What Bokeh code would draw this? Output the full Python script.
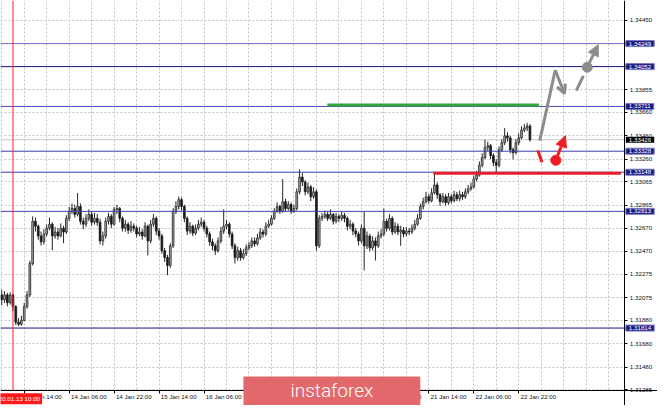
import numpy as np
from bokeh.plotting import figure
from bokeh.models import (FixedTicker, NumeralTickFormatter, LinearAxis, Label, Arrow,
                          NormalHead, OpenHead, Range1d, BoxAnnotation)
from bokeh.embed import file_html
from bokeh.resources import INLINE

# ---------------- data (GBPUSD H1) ----------------
opens = [
1.32098, 1.32056, 1.32098, 1.32031, 1.32098, 1.31997, 1.31863, 1.31846, 1.31880, 1.31997,
1.32098, 1.32367, 1.32728, 1.32686, 1.32602, 1.32552, 1.32619, 1.32669, 1.32703, 1.32602,
1.32636, 1.32602, 1.32669, 1.32636, 1.32753, 1.32812, 1.32837, 1.32787, 1.32854, 1.32728,
1.32703, 1.32753, 1.32787, 1.32720, 1.32753, 1.32720, 1.32560, 1.32602, 1.32728, 1.32770,
1.32703, 1.32829, 1.32837, 1.32753, 1.32669, 1.32703, 1.32652, 1.32686, 1.32669, 1.32619,
1.32636, 1.32602, 1.32686, 1.32560, 1.32703, 1.32753, 1.32644, 1.32602, 1.32476, 1.32417,
1.32350, 1.32518, 1.32812, 1.32854, 1.32913, 1.32854, 1.32753, 1.32644, 1.32686, 1.32627,
1.32669, 1.32703, 1.32720, 1.32669, 1.32619, 1.32552, 1.32518, 1.32476, 1.32560, 1.32644,
1.32686, 1.32703, 1.32619, 1.32518, 1.32417, 1.32476, 1.32417, 1.32451, 1.32501, 1.32518,
1.32560, 1.32535, 1.32585, 1.32636, 1.32619, 1.32686, 1.32703, 1.32753, 1.32812, 1.32854,
1.32812, 1.32896, 1.32837, 1.32871, 1.32812, 1.32837, 1.32980, 1.33106, 1.33064, 1.32980,
1.33022, 1.32938, 1.32980, 1.32518, 1.32753, 1.32770, 1.32787, 1.32753, 1.32787, 1.32728,
1.32770, 1.32753, 1.32778, 1.32753, 1.32686, 1.32703, 1.32644, 1.32619, 1.32560, 1.32669,
1.32518, 1.32602, 1.32501, 1.32560, 1.32518, 1.32602, 1.32619, 1.32728, 1.32669, 1.32753,
1.32636, 1.32686, 1.32636, 1.32652, 1.32619, 1.32644, 1.32636, 1.32669, 1.32703, 1.32753,
1.32854, 1.32896, 1.32938, 1.32904, 1.32972, 1.33039, 1.32955, 1.32896, 1.32938, 1.32888,
1.32938, 1.32904, 1.32955, 1.32921, 1.32955, 1.32938, 1.32980, 1.33005, 1.33022, 1.33089,
1.33123, 1.33207, 1.33274, 1.33358, 1.33375, 1.33291, 1.33232, 1.33207, 1.33341, 1.33400,
1.33459, 1.33442, 1.33341, 1.33316, 1.33400, 1.33442, 1.33509, 1.33526, 1.33543,
]
highs = [
1.32140, 1.32130, 1.32115, 1.32120, 1.32110, 1.32010, 1.31900, 1.31920, 1.32030, 1.32130,
1.32390, 1.32770, 1.32760, 1.32700, 1.32640, 1.32660, 1.32700, 1.32760, 1.32720, 1.32680,
1.32670, 1.32710, 1.32690, 1.32780, 1.32850, 1.32880, 1.32870, 1.32970, 1.32880, 1.32760,
1.32790, 1.32830, 1.32810, 1.32800, 1.32790, 1.32750, 1.32640, 1.32760, 1.32800, 1.32790,
1.32850, 1.32870, 1.32850, 1.32770, 1.32740, 1.32720, 1.32730, 1.32710, 1.32690, 1.32680,
1.32660, 1.32720, 1.32700, 1.32740, 1.32790, 1.32770, 1.32670, 1.32620, 1.32500, 1.32440,
1.32540, 1.32840, 1.32900, 1.32940, 1.32930, 1.32870, 1.32770, 1.32720, 1.32700, 1.32700,
1.32740, 1.32760, 1.32740, 1.32690, 1.32640, 1.32580, 1.32540, 1.32590, 1.32680, 1.32830,
1.32740, 1.32720, 1.32640, 1.32540, 1.32510, 1.32500, 1.32490, 1.32530, 1.32550, 1.32590,
1.32590, 1.32620, 1.32670, 1.32660, 1.32720, 1.32740, 1.32780, 1.32840, 1.32890, 1.32870,
1.33089, 1.32920, 1.32900, 1.32890, 1.32870, 1.33010, 1.33173, 1.33140, 1.33080, 1.33060,
1.33040, 1.33020, 1.33000, 1.32780, 1.32800, 1.32820, 1.32810, 1.32830, 1.32800, 1.32800,
1.32790, 1.32810, 1.32800, 1.32770, 1.32740, 1.32720, 1.32670, 1.32640, 1.32700, 1.32812,
1.32640, 1.32620, 1.32600, 1.32590, 1.32640, 1.32660, 1.32837, 1.32750, 1.32790, 1.32770,
1.32720, 1.32710, 1.32690, 1.32680, 1.32680, 1.32670, 1.32700, 1.32740, 1.32790, 1.32880,
1.32930, 1.32980, 1.32960, 1.33010, 1.33131, 1.33060, 1.32970, 1.32970, 1.32960, 1.32970,
1.32960, 1.32990, 1.32980, 1.32990, 1.32980, 1.33010, 1.33040, 1.33060, 1.33120, 1.33160,
1.33240, 1.33310, 1.33426, 1.33410, 1.33390, 1.33310, 1.33260, 1.33370, 1.33430, 1.33526,
1.33490, 1.33460, 1.33360, 1.33430, 1.33480, 1.33540, 1.33560, 1.33570, 1.33560,
]
lows = [
1.32010, 1.32030, 1.32000, 1.32015, 1.31960, 1.31840, 1.31830, 1.31835, 1.31870, 1.31980,
1.32080, 1.32350, 1.32640, 1.32570, 1.32520, 1.32530, 1.32600, 1.32650, 1.32480, 1.32580,
1.32570, 1.32590, 1.32540, 1.32620, 1.32730, 1.32790, 1.32760, 1.32770, 1.32700, 1.32660,
1.32680, 1.32730, 1.32690, 1.32700, 1.32690, 1.32530, 1.32520, 1.32580, 1.32700, 1.32670,
1.32690, 1.32790, 1.32720, 1.32640, 1.32640, 1.32620, 1.32630, 1.32640, 1.32590, 1.32600,
1.32570, 1.32590, 1.32435, 1.32540, 1.32680, 1.32610, 1.32570, 1.32450, 1.32380, 1.32267,
1.32330, 1.32500, 1.32790, 1.32830, 1.32820, 1.32720, 1.32610, 1.32620, 1.32600, 1.32610,
1.32650, 1.32680, 1.32640, 1.32590, 1.32520, 1.32480, 1.32440, 1.32460, 1.32540, 1.32620,
1.32660, 1.32590, 1.32490, 1.32367, 1.32390, 1.32390, 1.32400, 1.32430, 1.32480, 1.32500,
1.32510, 1.32520, 1.32570, 1.32590, 1.32600, 1.32670, 1.32690, 1.32740, 1.32800, 1.32790,
1.32800, 1.32810, 1.32820, 1.32790, 1.32800, 1.32820, 1.32960, 1.33030, 1.32950, 1.32960,
1.32900, 1.32920, 1.32476, 1.32500, 1.32730, 1.32750, 1.32730, 1.32740, 1.32700, 1.32710,
1.32720, 1.32730, 1.32720, 1.32650, 1.32660, 1.32610, 1.32590, 1.32520, 1.32540, 1.32308,
1.32490, 1.32470, 1.32480, 1.32392, 1.32500, 1.32580, 1.32600, 1.32640, 1.32650, 1.32610,
1.32620, 1.32610, 1.32518, 1.32590, 1.32600, 1.32610, 1.32620, 1.32650, 1.32690, 1.32740,
1.32830, 1.32880, 1.32880, 1.32890, 1.32960, 1.32920, 1.32860, 1.32880, 1.32860, 1.32870,
1.32880, 1.32890, 1.32900, 1.32900, 1.32910, 1.32920, 1.32960, 1.32990, 1.33010, 1.33070,
1.33110, 1.33190, 1.33260, 1.33330, 1.33260, 1.33200, 1.33148, 1.33190, 1.33320, 1.33380,
1.33410, 1.33310, 1.33258, 1.33300, 1.33380, 1.33430, 1.33490, 1.33500, 1.33410,
]
closes = [
1.32056, 1.32098, 1.32031, 1.32098, 1.31997, 1.31863, 1.31846, 1.31880, 1.31997, 1.32098,
1.32367, 1.32728, 1.32686, 1.32602, 1.32552, 1.32619, 1.32669, 1.32703, 1.32602, 1.32636,
1.32602, 1.32669, 1.32636, 1.32753, 1.32812, 1.32837, 1.32787, 1.32854, 1.32728, 1.32703,
1.32753, 1.32787, 1.32720, 1.32753, 1.32720, 1.32560, 1.32602, 1.32728, 1.32770, 1.32703,
1.32829, 1.32837, 1.32753, 1.32669, 1.32703, 1.32652, 1.32686, 1.32669, 1.32619, 1.32636,
1.32602, 1.32686, 1.32560, 1.32703, 1.32753, 1.32644, 1.32602, 1.32476, 1.32417, 1.32350,
1.32518, 1.32812, 1.32854, 1.32913, 1.32854, 1.32753, 1.32644, 1.32686, 1.32627, 1.32669,
1.32703, 1.32720, 1.32669, 1.32619, 1.32552, 1.32518, 1.32476, 1.32560, 1.32644, 1.32686,
1.32703, 1.32619, 1.32518, 1.32417, 1.32476, 1.32417, 1.32451, 1.32501, 1.32518, 1.32560,
1.32535, 1.32585, 1.32636, 1.32619, 1.32686, 1.32703, 1.32753, 1.32812, 1.32854, 1.32812,
1.32896, 1.32837, 1.32871, 1.32812, 1.32837, 1.32980, 1.33106, 1.33064, 1.32980, 1.33022,
1.32938, 1.32980, 1.32518, 1.32753, 1.32770, 1.32787, 1.32753, 1.32787, 1.32728, 1.32770,
1.32753, 1.32778, 1.32753, 1.32686, 1.32703, 1.32644, 1.32619, 1.32560, 1.32669, 1.32518,
1.32602, 1.32501, 1.32560, 1.32518, 1.32602, 1.32619, 1.32728, 1.32669, 1.32753, 1.32636,
1.32686, 1.32636, 1.32652, 1.32619, 1.32644, 1.32636, 1.32669, 1.32703, 1.32753, 1.32854,
1.32896, 1.32938, 1.32904, 1.32972, 1.33039, 1.32955, 1.32896, 1.32938, 1.32888, 1.32938,
1.32904, 1.32955, 1.32921, 1.32955, 1.32938, 1.32980, 1.33005, 1.33022, 1.33089, 1.33123,
1.33207, 1.33274, 1.33358, 1.33375, 1.33291, 1.33232, 1.33207, 1.33341, 1.33400, 1.33459,
1.33442, 1.33341, 1.33316, 1.33400, 1.33442, 1.33509, 1.33526, 1.33543, 1.33426,
]

time_tick_bars = [8, 24, 40, 56, 72, 88, 104, 120, 136, 152, 168, 184]
time_tick_labels = ["13 Jan 14:00", "14 Jan 06:00", "14 Jan 22:00", "15 Jan 14:00",
                    "16 Jan 06:00", "16 Jan 22:00", "17 Jan 14:00", "20 Jan 06:00",
                    "20 Jan 22:00", "21 Jan 14:00", "22 Jan 06:00", "22 Jan 22:00"]
price_ticks = [1.34450, 1.34250, 1.34055, 1.33855, 1.33660, 1.33460, 1.33260, 1.33065,
               1.32865, 1.32670, 1.32470, 1.32275, 1.32075, 1.31880, 1.31680, 1.31480, 1.31285]

levels = [1.34249, 1.34052, 1.33711, 1.33328, 1.33148, 1.32813, 1.31814]
level_colors = ["#7070cc", "#14147c", "#4848b8", "#3c3cb0", "#3c3cb0", "#4040b2", "#14147c"]
current_price = 1.33426
marker_bar = 4
marker_label = "2020.01.13 10:00"

green_level = [115.9, 191.2, 1.33724]      # x0, x1, price
red_level = [153.6, 220.4, 1.33140]

gray_up_x = [191.5, 197.0]
gray_up_y = [1.33418, 1.34022]
gray_down = [197.0, 1.34022, 200.3, 1.33820]
gray_dash = [204.5, 1.33846, 207.0, 1.33972]
gray_dot = [208.4, 1.34047]
gray_tip = [212.3, 1.34240]
red_dash = [190.8, 1.33333, 192.3, 1.33233]
red_dot = [197.2, 1.33250]
red_tip = [200.6, 1.33459]

# ---------------- figure ----------------
FONT = "Liberation Sans"
X0, X1 = -0.44, 233.4          # visible bars (frame spans the whole canvas)
Y0, Y1 = 1.31151, 1.34618
AXIS_X = 221.78                # where the price scale sits
AXIS_Y = 1.31277               # where the time scale sits

p = figure(width=657, height=405, x_range=Range1d(X0, X1), y_range=Range1d(Y0, Y1),
           y_axis_location="right", toolbar_location=None, output_backend="svg",
           min_border_left=0, min_border_top=0, min_border_right=0, min_border_bottom=0)
p.outline_line_color = None
p.background_fill_color = "white"
p.border_fill_color = "white"

p.xgrid.ticker = FixedTicker(ticks=list(range(0, 224, 8)))
p.ygrid.ticker = FixedTicker(ticks=price_ticks)
for g in (p.xgrid[0], p.ygrid[0]):
    g.grid_line_color = "#c4c4c4"
    g.grid_line_dash = "2 2"
    g.grid_line_width = 1

# blank strips below / right of the scales (hide grid there)
p.add_layout(BoxAnnotation(top=AXIS_Y, fill_color="white", fill_alpha=1, line_color=None,
                           level="underlay"))
p.add_layout(BoxAnnotation(left=AXIS_X, fill_color="white", fill_alpha=1, line_color=None,
                           level="underlay"))

yax = p.yaxis[0]
yax.fixed_location = AXIS_X
yax.ticker = FixedTicker(ticks=price_ticks, minor_ticks=[])
yax.formatter = NumeralTickFormatter(format="0.00000")
yax.major_label_text_font = FONT
yax.major_label_text_font_size = "6.2px"
yax.major_label_text_color = "#111111"
yax.major_tick_out = 3
yax.major_tick_in = 0
yax.minor_tick_out = 0
yax.minor_tick_in = 0
yax.major_label_standoff = 2
yax.axis_line_color = "black"
yax.major_tick_line_color = "black"

xa = p.xaxis[0]
xa.fixed_location = AXIS_Y
xa.ticker = FixedTicker(ticks=time_tick_bars, minor_ticks=[])
xa.major_label_text_color = None
xa.major_tick_out = 3
xa.major_tick_in = 0
xa.minor_tick_out = 0
xa.axis_line_color = "black"
xa.major_tick_line_color = "black"

label_pos = [b + 7 for b in time_tick_bars]
xb = LinearAxis(ticker=FixedTicker(ticks=label_pos, minor_ticks=[]),
                major_label_overrides=dict(zip(label_pos, time_tick_labels)),
                fixed_location=AXIS_Y)
xb.axis_line_color = None
xb.major_tick_line_color = None
xb.minor_tick_line_color = None
xb.major_tick_out = 0
xb.minor_tick_out = 0
xb.major_label_standoff = 2
xb.major_label_text_font = FONT
xb.major_label_text_font_size = "6.2px"
xb.major_label_text_color = "#111111"
p.add_layout(xb, "below")

# bid line
p.segment(x0=[X0], y0=[current_price], x1=[AXIS_X], y1=[current_price],
          line_color="#c8c8c8", line_width=1)

# candles
o = np.array(opens)
c = np.array(closes)
x = np.arange(len(c))
up = c >= o
p.segment(x0=x, y0=highs, x1=x, y1=lows, line_color="#262626", line_width=1)
p.vbar(x=x[up], width=0.62, top=c[up], bottom=o[up], fill_color="#a8a8a8",
       line_color="#262626", line_width=0.8)
p.vbar(x=x[~up], width=0.62, top=o[~up], bottom=c[~up], fill_color="#1a1a1a",
       line_color="#1a1a1a", line_width=0.8)

# levels
p.segment(x0=[X0] * len(levels), y0=levels, x1=[AXIS_X] * len(levels), y1=levels,
          line_color=level_colors, line_width=1)
p.segment(x0=[marker_bar], y0=[AXIS_Y], x1=[marker_bar], y1=[Y1],
          line_color="#ff2020", line_width=1)
p.segment(x0=[green_level[0]], y0=[green_level[2]], x1=[green_level[1]], y1=[green_level[2]],
          line_color="#2ea83a", line_width=3)
p.segment(x0=[red_level[0]], y0=[red_level[2]], x1=[red_level[1]], y1=[red_level[2]],
          line_color="#e8202c", line_width=3)

# forecast arrows
GRAY = "#8c8c8c"
RED = "#ee1c25"
p.line(gray_up_x, gray_up_y, line_color=GRAY, line_width=3)
p.add_layout(Arrow(x_start=gray_down[0], y_start=gray_down[1], x_end=gray_down[2], y_end=gray_down[3],
                   line_color=GRAY, line_width=3,
                   end=OpenHead(size=9, line_color=GRAY, line_width=3)))
p.segment(x0=[gray_dash[0]], y0=[gray_dash[1]], x1=[gray_dash[2]], y1=[gray_dash[3]],
          line_color=GRAY, line_width=3)
p.scatter([gray_dot[0]], [gray_dot[1]], size=10, fill_color=GRAY, line_color=GRAY)
p.add_layout(Arrow(x_start=gray_dot[0], y_start=gray_dot[1], x_end=gray_tip[0], y_end=gray_tip[1],
                   line_color=GRAY, line_width=3,
                   end=NormalHead(size=11, fill_color=GRAY, line_color=GRAY)))
p.segment(x0=[red_dash[0]], y0=[red_dash[1]], x1=[red_dash[2]], y1=[red_dash[3]],
          line_color=RED, line_width=3)
p.scatter([red_dot[0]], [red_dot[1]], size=10, fill_color=RED, line_color=RED)
p.add_layout(Arrow(x_start=red_dot[0], y_start=red_dot[1], x_end=red_tip[0], y_end=red_tip[1],
                   line_color=RED, line_width=3,
                   end=NormalHead(size=11, fill_color=RED, line_color=RED)))

# price tags on the price scale
for lv in levels:
    p.add_layout(Label(x=AXIS_X, y=lv, x_offset=1, text=f"{lv:.5f}", text_font=FONT,
                       text_font_size="6.2px", text_color="white", text_align="left",
                       text_baseline="middle", background_fill_color="#1a1a84",
                       border_line_color="#7a7ac4",
                       padding=dict(left=3, right=3, top=1, bottom=1)))
p.add_layout(Label(x=AXIS_X, y=current_price, x_offset=1, text=f"{current_price:.5f}",
                   text_font=FONT, text_font_size="6.2px", text_color="white",
                   text_align="left", text_baseline="middle", background_fill_color="black",
                   padding=dict(left=3, right=3, top=1, bottom=1)))

# vertical line date tag
p.add_layout(Label(x=marker_bar, y=1.31209, x_offset=3, text=marker_label, text_font=FONT,
                   text_font_size="6.2px", text_color="white", text_align="center",
                   text_baseline="middle", background_fill_color="#ff1a1a",
                   padding=dict(left=2, right=2, top=2, bottom=2)))

# logo
p.add_layout(Label(x=117.5, y=1.31232, text="instaforex",
                   text_font="Roboto Light, Roboto", text_font_size="19px", text_color="white",
                   text_align="center", text_baseline="middle",
                   background_fill_color="#e3686b",
                   padding=dict(left=47, right=47, top=2, bottom=14), level="overlay"))

open("out.html", "w").write(file_html(p, INLINE))
